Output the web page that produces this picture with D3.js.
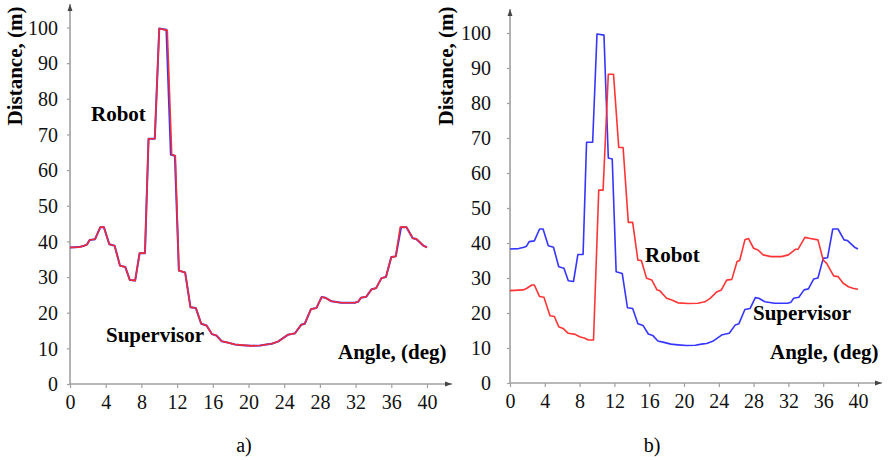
<!DOCTYPE html>
<html><head><meta charset="utf-8">
<script src="https://cdn.jsdelivr.net/npm/d3@7/dist/d3.min.js"></script>
<style>
html,body{margin:0;padding:0;background:#fff;}
svg{display:block;}
svg text{font-family:"Liberation Serif","Times New Roman",serif !important;}
</style></head>
<body>
<svg id="chart" width="888" height="460"></svg>
<script>
// ---- data ----
const xTicks = [0,4,8,12,16,20,24,28,32,36,40];
const yTicks = [0,10,20,30,40,50,60,70,80,90,100];

const supAngle = [0,1.0,1.6,1.9,2.2,2.8,3.4,3.8,4.4,5.0,5.6,6.2,6.7,7.3,7.8,8.4,8.8,9.5,10.0,10.8,11.3,11.75,12.2,12.9,13.5,14.1,14.7,15.3,15.9,16.4,17.0,17.7,18.5,19.3,20.3,21.3,22.0,22.6,23.3,24.4,25.2,25.9,26.3,27.0,27.6,28.2,28.6,29.3,30.4,31.9,32.3,32.6,33.2,33.8,34.3,34.9,35.4,36.0,36.5,37.1,37.7,38.4,38.8,39.6,40.0];
const supDist  = [38.3,38.4,38.8,39.1,40.4,40.6,44.0,44.0,39.2,38.8,33.2,32.8,29.2,29.0,36.7,36.7,68.8,68.8,99.7,99.4,64.3,64.0,31.8,31.3,21.5,21.3,16.9,16.4,14.0,13.6,12.0,11.6,11.1,10.9,10.7,10.8,11.1,11.3,11.9,13.8,14.2,16.6,16.9,21.0,21.3,24.4,24.2,23.2,22.8,22.8,23.1,24.2,24.5,26.6,26.9,29.7,30.0,35.6,35.8,44.0,44.0,40.9,40.7,38.8,38.3];

// panel a) robot almost coincides with the supervisor
const robotAAngle = [0,1.0,1.6,1.9,2.2,2.8,3.4,3.8,4.4,5.0,5.6,6.2,6.7,7.3,7.8,8.4,8.8,9.5,10.0,10.9,11.4,11.8,12.2,12.9,13.5,14.1,14.7,15.3,15.9,16.4,17.0,17.7,18.5,19.3,20.3,21.3,22.0,22.6,23.3,24.4,25.2,25.9,26.3,27.0,27.6,28.2,28.6,29.3,30.4,31.9,32.3,32.6,33.2,33.8,34.3,34.9,35.4,36.0,36.5,37.0,37.7,38.4,38.8,39.6,40.0];
const robotADist  = [38.3,38.4,38.8,39.1,40.4,40.6,44.0,44.0,39.2,38.8,33.2,32.8,29.2,29.0,36.7,36.7,68.8,68.8,99.7,99.2,64.3,64.0,31.8,31.3,21.5,21.3,16.9,16.4,14.0,13.6,12.0,11.6,11.1,10.9,10.7,10.8,11.1,11.3,11.9,13.8,14.2,16.6,16.9,21.0,21.3,24.4,24.2,23.2,22.8,22.8,23.1,24.2,24.5,26.6,26.9,29.7,30.0,35.6,35.8,44.0,44.0,40.9,40.7,38.8,38.3];

// panel b) robot
const robotBAngle = [0,1.5,1.9,2.5,2.8,3.4,3.9,4.6,5.1,5.6,6.1,6.7,7.5,8.0,8.6,9.0,9.6,10.2,10.7,11.3,11.9,12.5,13.0,13.6,14.1,14.7,15.1,15.7,16.3,16.9,17.2,18.0,18.6,19.3,20.5,21.6,22.4,23.0,23.8,24.3,24.9,25.5,26.1,26.4,27.0,27.4,28.0,28.5,29.1,30.0,31.2,32.0,32.8,33.1,33.9,34.5,35.4,36.0,36.4,37.2,37.7,38.3,38.9,39.5,40.0];
const robotBDist  = [26.4,26.6,27.0,28.0,28.0,24.7,24.5,19.2,19.0,16.1,15.6,14.2,13.9,13.2,12.8,12.3,12.3,55.1,55.1,88.2,88.2,67.3,67.3,45.9,45.9,35.1,35.0,29.9,29.4,26.6,26.4,24.2,23.7,22.9,22.7,22.8,23.2,24.2,26.1,26.6,29.4,29.6,34.7,35.0,40.9,41.3,38.5,38.0,36.6,36.1,36.1,36.6,38.2,38.2,41.6,41.3,40.9,35.1,34.2,30.6,30.4,28.5,27.5,27.0,26.8];

const seriesColors = {robot:"#ff2a2a", supervisor:"#2a2aff"};

// ---- drawing ----
const svg = d3.select("#chart");
const defs = svg.append("defs");
defs.append("marker").attr("id","arr").attr("viewBox","0 0 10 10")
  .attr("refX",10).attr("refY",5).attr("markerWidth",7).attr("markerHeight",7)
  .attr("markerUnits","userSpaceOnUse").attr("orient","auto")
  .append("path").attr("d","M0,1.5L10,5L0,8.5Z").attr("fill","#444");

function panel(cfg){
  const x = d3.scaleLinear().domain([0,40]).range([cfg.x0, cfg.x1]);
  const y = d3.scaleLinear().domain([0,100]).range([cfg.y0, cfg.y1]);
  const g = svg.append("g");

  g.append("line").attr("x1",x(0)).attr("y1",y(0)).attr("x2",cfg.xEnd).attr("y2",y(0))
    .attr("stroke","#a0a0a0").attr("stroke-width",1.6).attr("marker-end","url(#arr)");
  g.append("line").attr("x1",x(0)).attr("y1",y(0)+1).attr("x2",x(0)).attr("y2",cfg.yEnd)
    .attr("stroke","#a0a0a0").attr("stroke-width",1.6).attr("marker-end","url(#arr)");

  const xa = g.append("g").attr("transform",`translate(0,${y(0)})`)
    .call(d3.axisBottom(x).tickValues(xTicks).tickSize(4).tickPadding(6));
  const ya = g.append("g").attr("transform",`translate(${x(0)},0)`)
    .call(d3.axisLeft(y).tickValues(yTicks).tickSize(3).tickPadding(cfg.yPad));
  [xa,ya].forEach(a=>{
    a.attr("font-family",null).attr("font-size",null);
    a.select(".domain").remove();
    a.selectAll(".tick line").attr("stroke","#a0a0a0").attr("stroke-width",1.2);
    a.selectAll("text").style("font-size","20px").attr("fill","#111");
  });
  xa.selectAll("text").attr("dy","0.75em");
  ya.selectAll("text").attr("dy","0.34em");

  const line = d3.line().x(d=>x(d[0])).y(d=>y(d[1]));
  cfg.series.forEach(s=>{
    g.append("path").datum(d3.zip(s.a, s.d)).attr("d",line)
      .attr("fill","none").attr("stroke",s.color).attr("stroke-width",s.w||1.6)
      .attr("stroke-linejoin","round").attr("opacity",0.95);
  });

  g.append("text").attr("transform",`translate(${cfg.ylabX},${cfg.ylabY}) rotate(-90)`)
    .attr("text-anchor","middle").attr("font-weight","bold").style("font-size","21px")
    .text("Distance, (m)");
  cfg.labels.forEach(l=>{
    g.append("text").attr("x",l.x).attr("y",l.y).attr("font-weight","bold")
      .style("font-size","21px").text(l.t);
  });
  g.append("text").attr("x",cfg.capX).attr("y",452).attr("text-anchor","middle")
    .style("font-size","20px").text(cfg.cap);
}

panel({x0:70,x1:427,y0:384,y1:27.5,xEnd:452,yEnd:4,yPad:9,ylabX:22,ylabY:66,
  series:[{a:supAngle,d:supDist,color:seriesColors.supervisor,w:2},
          {a:robotAAngle,d:robotADist,color:seriesColors.robot,w:1.6}],
  labels:[{x:91,y:121,t:"Robot"},{x:106,y:342,t:"Supervisor"},{x:338,y:359,t:"Angle, (deg)"}],
  capX:244,cap:"a)"});

panel({x0:510,x1:858,y0:383,y1:33,xEnd:882,yEnd:9,yPad:16,ylabX:453,ylabY:66,
  series:[{a:supAngle,d:supDist,color:seriesColors.supervisor,w:1.6},
          {a:robotBAngle,d:robotBDist,color:seriesColors.robot,w:1.6}],
  labels:[{x:645,y:262,t:"Robot"},{x:753,y:320,t:"Supervisor"},{x:770,y:359,t:"Angle, (deg)"}],
  capX:652,cap:"b)"});
</script>
</body></html>
